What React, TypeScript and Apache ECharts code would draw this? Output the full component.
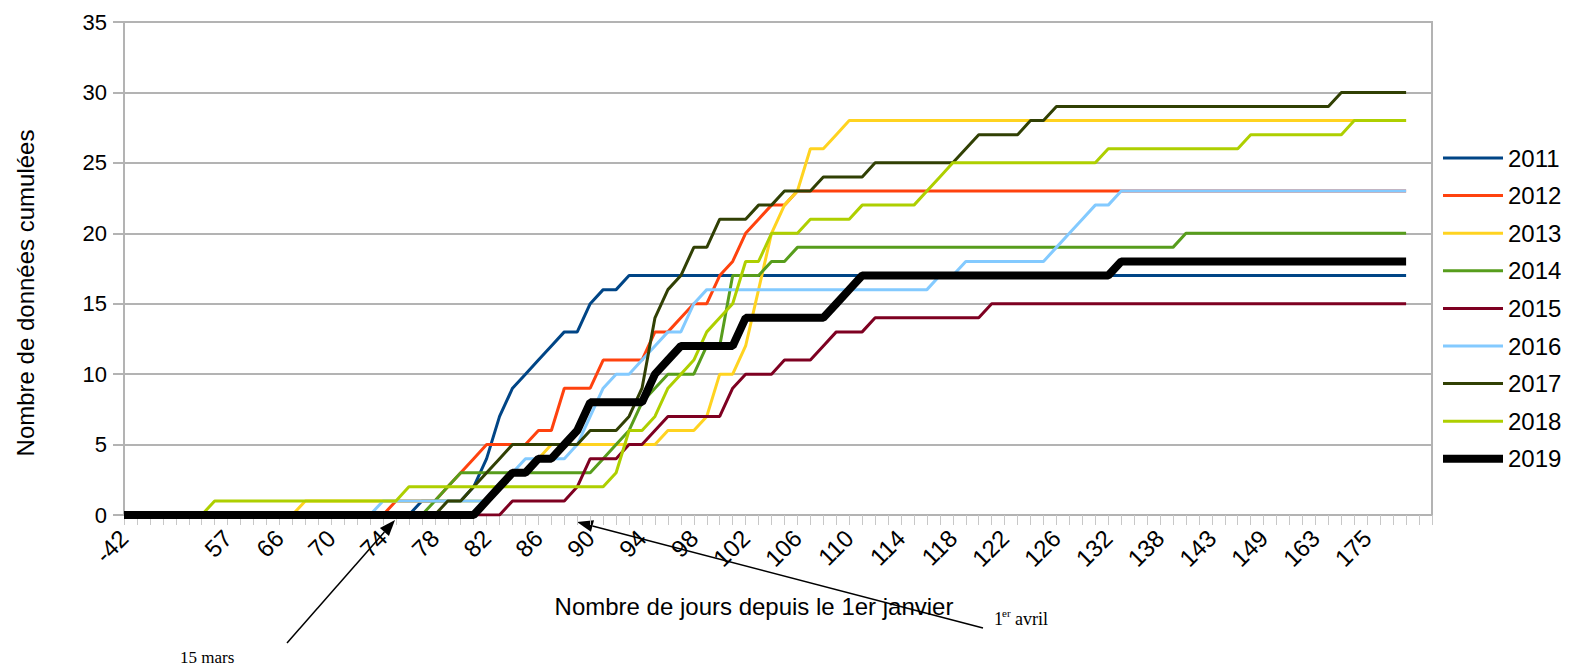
import React, { useEffect, useRef } from "react";
import * as echarts from "echarts";

// Day-of-year categories (one per tick)
const categories: string[] = [
  "-42", "-28", "-14", "0", "14", "28", "42", "50", "57", "60", "62", "64", "66",
  "67", "68", "69", "70", "71", "72", "73", "74", "75", "76", "77", "78", "79", "80",
  "81", "82", "83", "84", "85", "86", "87", "88", "89", "90", "91", "92", "93", "94",
  "95", "96", "97", "98", "99", "100", "101", "102", "103", "104", "105", "106", "107",
  "108", "109", "110", "111", "112", "113", "114", "115", "116", "117", "118", "119",
  "120", "121", "122", "123", "124", "125", "126",
  "128", "129", "131", "132", "134", "135", "137", "138", "139", "141", "142", "143",
  "145", "146", "148", "149", "152", "156", "159", "163", "166", "169", "172", "175",
  "178", "182", "185", "190", "195",
];

const years = ["2011", "2012", "2013", "2014", "2015", "2016", "2017", "2018", "2019"];
const colors = ["#004586", "#ff420e", "#ffd320", "#579d1c", "#7e0021", "#83caff", "#314004", "#aecf00", "#000000"];

const s2011 = [
  0, 0, 0, 0, 0, 0, 0, 0, 0, 0,
  0, 0, 0, 0, 0, 0, 0, 0, 0, 0,
  0, 0, 0, 1, 1, 1, 1, 2, 4, 7,
  9, 10, 11, 12, 13, 13, 15, 16, 16, 17,
  17, 17, 17, 17, 17, 17, 17, 17, 17, 17,
  17, 17, 17, 17, 17, 17, 17, 17, 17, 17,
  17, 17, 17, 17, 17, 17, 17, 17, 17, 17,
  17, 17, 17, 17, 17, 17, 17, 17, 17, 17,
  17, 17, 17, 17, 17, 17, 17, 17, 17, 17,
  17, 17, 17, 17, 17, 17, 17, 17, 17, 17,
];
const s2012 = [
  0, 0, 0, 0, 0, 0, 0, 0, 0, 0,
  0, 0, 0, 0, 0, 0, 0, 0, 0, 0,
  0, 1, 1, 1, 1, 2, 3, 4, 5, 5,
  5, 5, 6, 6, 9, 9, 9, 11, 11, 11,
  11, 13, 13, 14, 15, 15, 17, 18, 20, 21,
  22, 22, 23, 23, 23, 23, 23, 23, 23, 23,
  23, 23, 23, 23, 23, 23, 23, 23, 23, 23,
  23, 23, 23, 23, 23, 23, 23, 23, 23, 23,
  23, 23, 23, 23, 23, 23, 23, 23, 23, 23,
  23, 23, 23, 23, 23, 23, 23, 23, 23, 23,
];
const s2013 = [
  0, 0, 0, 0, 0, 0, 0, 0, 0, 0,
  0, 0, 0, 0, 1, 1, 1, 1, 1, 1,
  1, 1, 1, 1, 1, 1, 1, 1, 1, 2,
  3, 3, 4, 5, 5, 5, 5, 5, 5, 5,
  5, 5, 6, 6, 6, 7, 10, 10, 12, 16,
  20, 22, 23, 26, 26, 27, 28, 28, 28, 28,
  28, 28, 28, 28, 28, 28, 28, 28, 28, 28,
  28, 28, 28, 28, 28, 28, 28, 28, 28, 28,
  28, 28, 28, 28, 28, 28, 28, 28, 28, 28,
  28, 28, 28, 28, 28, 28, 28, 28, 28, 28,
];
const s2014 = [
  0, 0, 0, 0, 0, 0, 0, 0, 0, 0,
  0, 0, 0, 0, 0, 0, 0, 0, 0, 0,
  0, 0, 0, 0, 1, 2, 3, 3, 3, 3,
  3, 3, 3, 3, 3, 3, 3, 4, 5, 6,
  8, 9, 10, 10, 10, 12, 12, 17, 17, 17,
  18, 18, 19, 19, 19, 19, 19, 19, 19, 19,
  19, 19, 19, 19, 19, 19, 19, 19, 19, 19,
  19, 19, 19, 19, 19, 19, 19, 19, 19, 19,
  19, 19, 20, 20, 20, 20, 20, 20, 20, 20,
  20, 20, 20, 20, 20, 20, 20, 20, 20, 20,
];
const s2015 = [
  0, 0, 0, 0, 0, 0, 0, 0, 0, 0,
  0, 0, 0, 0, 0, 0, 0, 0, 0, 0,
  0, 0, 0, 0, 0, 0, 0, 0, 0, 0,
  1, 1, 1, 1, 1, 2, 4, 4, 4, 5,
  5, 6, 7, 7, 7, 7, 7, 9, 10, 10,
  10, 11, 11, 11, 12, 13, 13, 13, 14, 14,
  14, 14, 14, 14, 14, 14, 14, 15, 15, 15,
  15, 15, 15, 15, 15, 15, 15, 15, 15, 15,
  15, 15, 15, 15, 15, 15, 15, 15, 15, 15,
  15, 15, 15, 15, 15, 15, 15, 15, 15, 15,
];
const s2016 = [
  0, 0, 0, 0, 0, 0, 0, 0, 0, 0,
  0, 0, 0, 0, 0, 0, 0, 0, 0, 0,
  1, 1, 1, 1, 1, 1, 1, 1, 1, 2,
  3, 4, 4, 4, 4, 5, 7, 9, 10, 10,
  11, 12, 13, 13, 15, 16, 16, 16, 16, 16,
  16, 16, 16, 16, 16, 16, 16, 16, 16, 16,
  16, 16, 16, 17, 17, 18, 18, 18, 18, 18,
  18, 18, 19, 20, 21, 22, 22, 23, 23, 23,
  23, 23, 23, 23, 23, 23, 23, 23, 23, 23,
  23, 23, 23, 23, 23, 23, 23, 23, 23, 23,
];
const s2017 = [
  0, 0, 0, 0, 0, 0, 0, 0, 0, 0,
  0, 0, 0, 0, 0, 0, 0, 0, 0, 0,
  0, 0, 0, 0, 0, 1, 1, 2, 3, 4,
  5, 5, 5, 5, 5, 5, 6, 6, 6, 7,
  9, 14, 16, 17, 19, 19, 21, 21, 21, 22,
  22, 23, 23, 23, 24, 24, 24, 24, 25, 25,
  25, 25, 25, 25, 25, 26, 27, 27, 27, 27,
  28, 28, 29, 29, 29, 29, 29, 29, 29, 29,
  29, 29, 29, 29, 29, 29, 29, 29, 29, 29,
  29, 29, 29, 29, 30, 30, 30, 30, 30, 30,
];
const s2018 = [
  0, 0, 0, 0, 0, 0, 0, 1, 1, 1,
  1, 1, 1, 1, 1, 1, 1, 1, 1, 1,
  1, 1, 2, 2, 2, 2, 2, 2, 2, 2,
  2, 2, 2, 2, 2, 2, 2, 2, 3, 6,
  6, 7, 9, 10, 11, 13, 14, 15, 18, 18,
  20, 20, 20, 21, 21, 21, 21, 22, 22, 22,
  22, 22, 23, 24, 25, 25, 25, 25, 25, 25,
  25, 25, 25, 25, 25, 25, 26, 26, 26, 26,
  26, 26, 26, 26, 26, 26, 26, 27, 27, 27,
  27, 27, 27, 27, 27, 28, 28, 28, 28, 28,
];
const s2019 = [
  0, 0, 0, 0, 0, 0, 0, 0, 0, 0,
  0, 0, 0, 0, 0, 0, 0, 0, 0, 0,
  0, 0, 0, 0, 0, 0, 0, 0, 1, 2,
  3, 3, 4, 4, 5, 6, 8, 8, 8, 8,
  8, 10, 11, 12, 12, 12, 12, 12, 14, 14,
  14, 14, 14, 14, 14, 15, 16, 17, 17, 17,
  17, 17, 17, 17, 17, 17, 17, 17, 17, 17,
  17, 17, 17, 17, 17, 17, 17, 18, 18, 18,
  18, 18, 18, 18, 18, 18, 18, 18, 18, 18,
  18, 18, 18, 18, 18, 18, 18, 18, 18, 18,
];

const seriesData = [s2011, s2012, s2013, s2014, s2015, s2016, s2017, s2018, s2019];

const SANS = "'Liberation Sans', Arial, sans-serif";
const SERIF = "'Liberation Serif', 'Times New Roman', serif";

function arrow(x1: number, y1: number, x2: number, y2: number) {
  const len = 16;
  const half = 6;
  const dx = x2 - x1;
  const dy = y2 - y1;
  const d = Math.sqrt(dx * dx + dy * dy);
  const ux = dx / d;
  const uy = dy / d;
  const bx = x2 - ux * len;
  const by = y2 - uy * len;
  const nx = -uy;
  const ny = ux;
  return [
    {
      type: "line",
      shape: { x1, y1, x2: bx, y2: by },
      style: { stroke: "#000", lineWidth: 1.5 },
      silent: true,
    },
    {
      type: "polygon",
      shape: {
        points: [
          [x2, y2],
          [bx + nx * half, by + ny * half],
          [bx - nx * half, by - ny * half],
        ],
      },
      style: { fill: "#000" },
      silent: true,
    },
  ];
}

export default function App() {
  const ref = useRef<HTMLDivElement>(null);

  useEffect(() => {
    if (!ref.current) return;
    const chart = echarts.init(ref.current, null, { renderer: "svg" });

    const option: any = {
      animation: false,
      backgroundColor: "#ffffff",
      textStyle: { fontFamily: SANS },
      grid: {
        left: 124,
        right: 137,
        top: 22,
        bottom: 151,
        show: true,
        borderColor: "#b3b3b3",
        borderWidth: 2,
        containLabel: false,
        outerBoundsMode: "none",
      },
      legend: {
        orient: "vertical",
        left: 1439,
        top: 146,
        padding: 0,
        itemWidth: 60,
        itemHeight: 24,
        itemGap: 13.6,
        data: years.map((y) => ({
          name: y,
          lineStyle: { width: y === "2019" ? 8 : 3 },
        })),
        itemStyle: { opacity: 0 },
        textStyle: { fontSize: 24, color: "#000", fontFamily: SANS },
      },
      xAxis: {
        type: "category",
        boundaryGap: false,
        data: categories,
        axisLine: { show: true, lineStyle: { color: "#b3b3b3", width: 2 } },
        axisTick: { show: true, interval: 0, length: 10, lineStyle: { color: "#c8c8c8", width: 1 } },
        axisLabel: {
          interval: (idx: number) => idx === 0 || (idx >= 8 && idx <= 96 && idx % 4 === 0),
          rotate: 45,
          fontSize: 24,
          color: "#000",
          margin: 19,
          fontFamily: SANS,
        },
        splitLine: { show: false },
      },
      yAxis: {
        type: "value",
        min: 0,
        max: 35,
        interval: 5,
        axisLine: { show: true, lineStyle: { color: "#b3b3b3", width: 2 } },
        axisTick: { show: true, length: 11, lineStyle: { color: "#b3b3b3", width: 2 } },
        axisLabel: { fontSize: 22, color: "#000", margin: 17, fontFamily: SANS },
        splitLine: { show: true, lineStyle: { color: "#b3b3b3", width: 2 } },
      },
      series: years.map((y, i) => ({
        name: y,
        type: "line",
        data: seriesData[i],
        symbol: "none",
        showSymbol: false,
        color: colors[i],
        lineStyle: { color: colors[i], width: y === "2019" ? 8 : 3 },
        z: 2 + i,
      })),
      graphic: [
        {
          type: "text",
          x: 25,
          y: 293,
          rotation: Math.PI / 2,
          style: {
            text: "Nombre de données cumulées",
            fontSize: 24,
            fontFamily: SANS,
            fill: "#000",
            align: "center",
            verticalAlign: "middle",
          },
        },
        {
          type: "text",
          x: 754,
          y: 606,
          style: {
            text: "Nombre de jours depuis le 1er janvier",
            fontSize: 24,
            fontFamily: SANS,
            fill: "#000",
            align: "center",
            verticalAlign: "middle",
          },
        },
        ...arrow(287, 643, 395, 520),
        ...arrow(983, 628, 577, 522),
        {
          type: "text",
          x: 180,
          y: 657,
          style: { text: "15 mars", fontSize: 17, fontFamily: SERIF, fill: "#000", align: "left", verticalAlign: "middle" },
        },
        {
          type: "text",
          x: 994,
          y: 619,
          style: { text: "1", fontSize: 18, fontFamily: SERIF, fill: "#000", align: "left", verticalAlign: "middle" },
        },
        {
          type: "text",
          x: 1002,
          y: 613,
          style: { text: "er", fontSize: 11, fontFamily: SERIF, fill: "#000", align: "left", verticalAlign: "middle" },
        },
        {
          type: "text",
          x: 1015,
          y: 619,
          style: { text: "avril", fontSize: 18, fontFamily: SERIF, fill: "#000", align: "left", verticalAlign: "middle" },
        },
      ],
    };

    chart.setOption(option);
    return () => chart.dispose();
  }, []);

  return (
    <div
      ref={ref}
      style={{ position: "absolute", left: 0, top: 0, width: 1569, height: 666 }}
    />
  );
}
